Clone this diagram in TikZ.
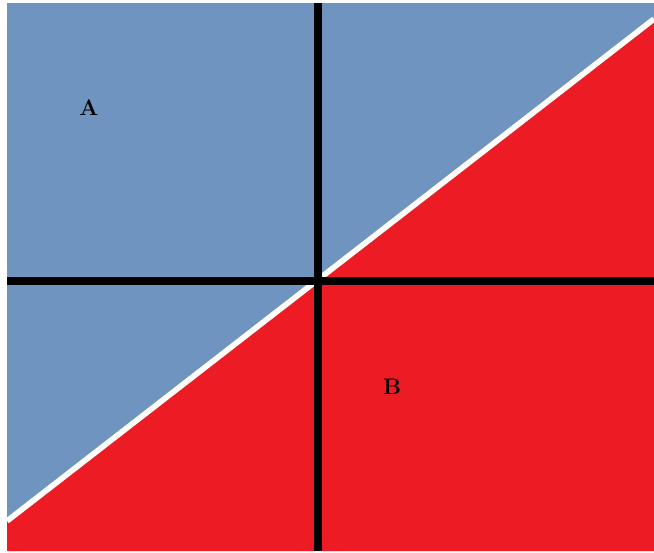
\documentclass[tikz,border=0pt]{standalone}
\definecolor{regblue}{RGB}{112,148,192}
\definecolor{regred}{RGB}{237,28,36}
\begin{document}
\begin{tikzpicture}[x=0.025cm, y=-0.025cm, font=\fontsize{16}{19}\selectfont\bfseries]
	\useasboundingbox (0,0) rectangle (654,553);
	\coordinate (TL) at (7,3); \coordinate (TR) at (654,3);
	\coordinate (BL) at (7,551); \coordinate (BR) at (654,551);
	\coordinate (P) at (7,521); \coordinate (Q) at (654,19);
	\coordinate (N) at (318,3); \coordinate (S) at (318,551);
	\coordinate (W) at (7,281); \coordinate (E) at (654,281);
	\fill[regblue] (TL)--(TR)--(Q)--(P)--cycle;
	\fill[regred] (P)--(Q)--(BR)--(BL)--cycle;
	\draw[white, line width=4pt] (P)--(Q);
	\draw[black, line width=5pt] (N)--(S) (W)--(E);
	\node (A) at (89,108) {A};
	\node (B) at (392,387) {B};
\end{tikzpicture}
\end{document}
